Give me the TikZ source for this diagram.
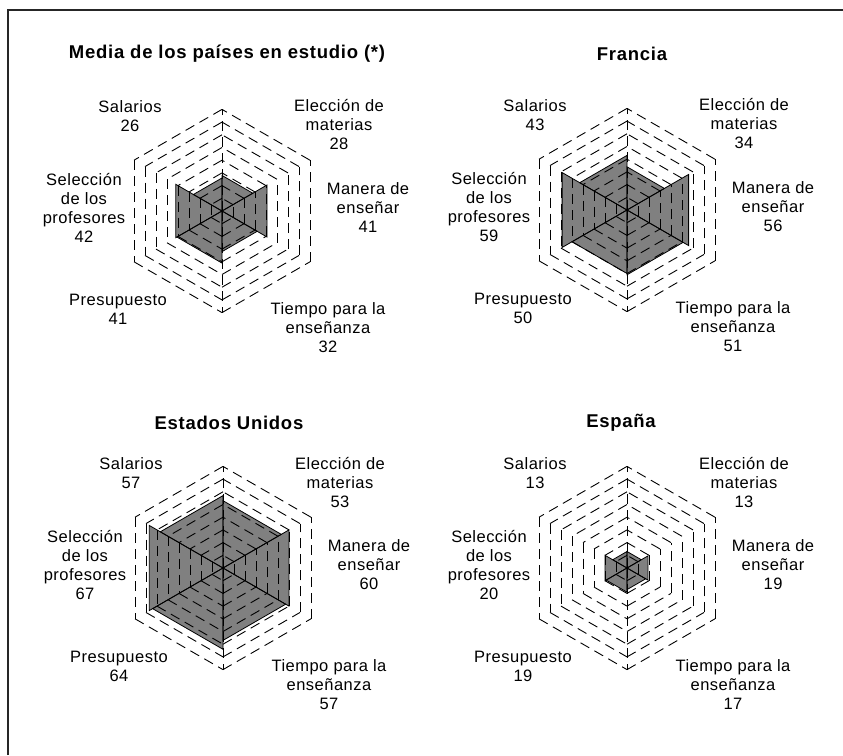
\documentclass[tikz,border=0pt]{standalone}
\usepackage{fontspec}
\setmainfont{Liberation Sans}
\def\ech{1.27}

% one chart: #1 name, #2 centre, then Manera, Eleccion, Salarios,
% Seleccion, Presupuesto, Tiempo
\newcommand{\radar}[8]{%
\begin{scope}[shift={#2}]
	% SECTEURS
	\foreach \a/\v in {-30/#3, 30/#4, 90/#5, 150/#6, 210/#7, 270/#8}
		\fill[secteur] (0,0) -- (\a:\v*\ech) -- (\a+60:\v*\ech) -- cycle;
	% GRILLE
	\foreach \r in {10,20,...,80}
		\foreach \a in {-30,30,...,270}
			\draw[grille] (\a:\r*\ech) -- (\a+60:\r*\ech);
	\draw[grille] (0,0) -- (90:80*\ech);
	\draw[grille] (0,0) -- (-90:80*\ech);
	% CONTOURS
	\foreach \a/\v in {-30/#3, 30/#4, 90/#5, 150/#6, 210/#7, 270/#8}
		\draw[contour] (0,0) -- (\a:\v*\ech) -- (\a+60:\v*\ech) -- cycle;
	% ETIQUETTES
	\node[etiquette] (#1-sal) at (-92, 95) {Salarios\\#5};
	\node[etiquette] (#1-ele) at (117, 86) {Elección de\\materias\\#4};
	\node[etiquette] (#1-man) at (146, 3) {Manera de\\enseñar\\#3};
	\node[etiquette] (#1-tie) at (106, -117) {Tiempo para la\\enseñanza\\#8};
	\node[etiquette] (#1-pre) at (-104, -98) {Presupuesto\\#7};
	\node[etiquette] (#1-sel) at (-138, 3) {Selección\\de los\\profesores\\#6};
\end{scope}}

\begin{document}
\begin{tikzpicture}[x=1pt, y=1pt]
	% STYLES
	\tikzstyle{cadre} = [line width=1.3pt, draw=black!85]
	\tikzstyle{grille} = [line width=0.9pt, draw=black, dash pattern=on 10pt off 6pt]
	\tikzstyle{secteur} = [fill=black!50, draw=none]
	\tikzstyle{contour} = [line width=0.8pt, draw=black, line join=miter]
	\tikzstyle{etiquette} = [align=center, inner sep=0pt,
		font={\addfontfeatures{LetterSpace=3}\fontsize{16.5}{19}\selectfont}]
	\tikzstyle{titre} = [inner sep=0pt,
		font={\addfontfeatures{LetterSpace=4}\fontsize{18.5}{21}\selectfont\bfseries}]

	\useasboundingbox (0, 0) rectangle (843, -755);

	% CADRE
	\draw[cadre] (8, -755) -- (8, -10) -- (843, -10);

	% MEDIA
	\radar{med}{(222, -211)}{41}{28}{26}{42}{41}{32}
	\node[titre] (tmed) at (227, -54) {Media de los países en estudio (*)};

	% FRANCIA
	\radar{fra}{(627, -210)}{56}{34}{43}{59}{50}{51}
	\node[titre] (tfra) at (632, -54) {Francia};

	% ESTADOS UNIDOS
	\radar{usa}{(223, -568)}{60}{53}{57}{67}{64}{57}
	\node[titre] (tusa) at (229, -423) {Estados Unidos};

	% ESPANA
	\radar{esp}{(627, -568)}{19}{13}{13}{20}{19}{17}
	\node[titre] (tesp) at (621, -423) {España};

\end{tikzpicture}
\end{document}
